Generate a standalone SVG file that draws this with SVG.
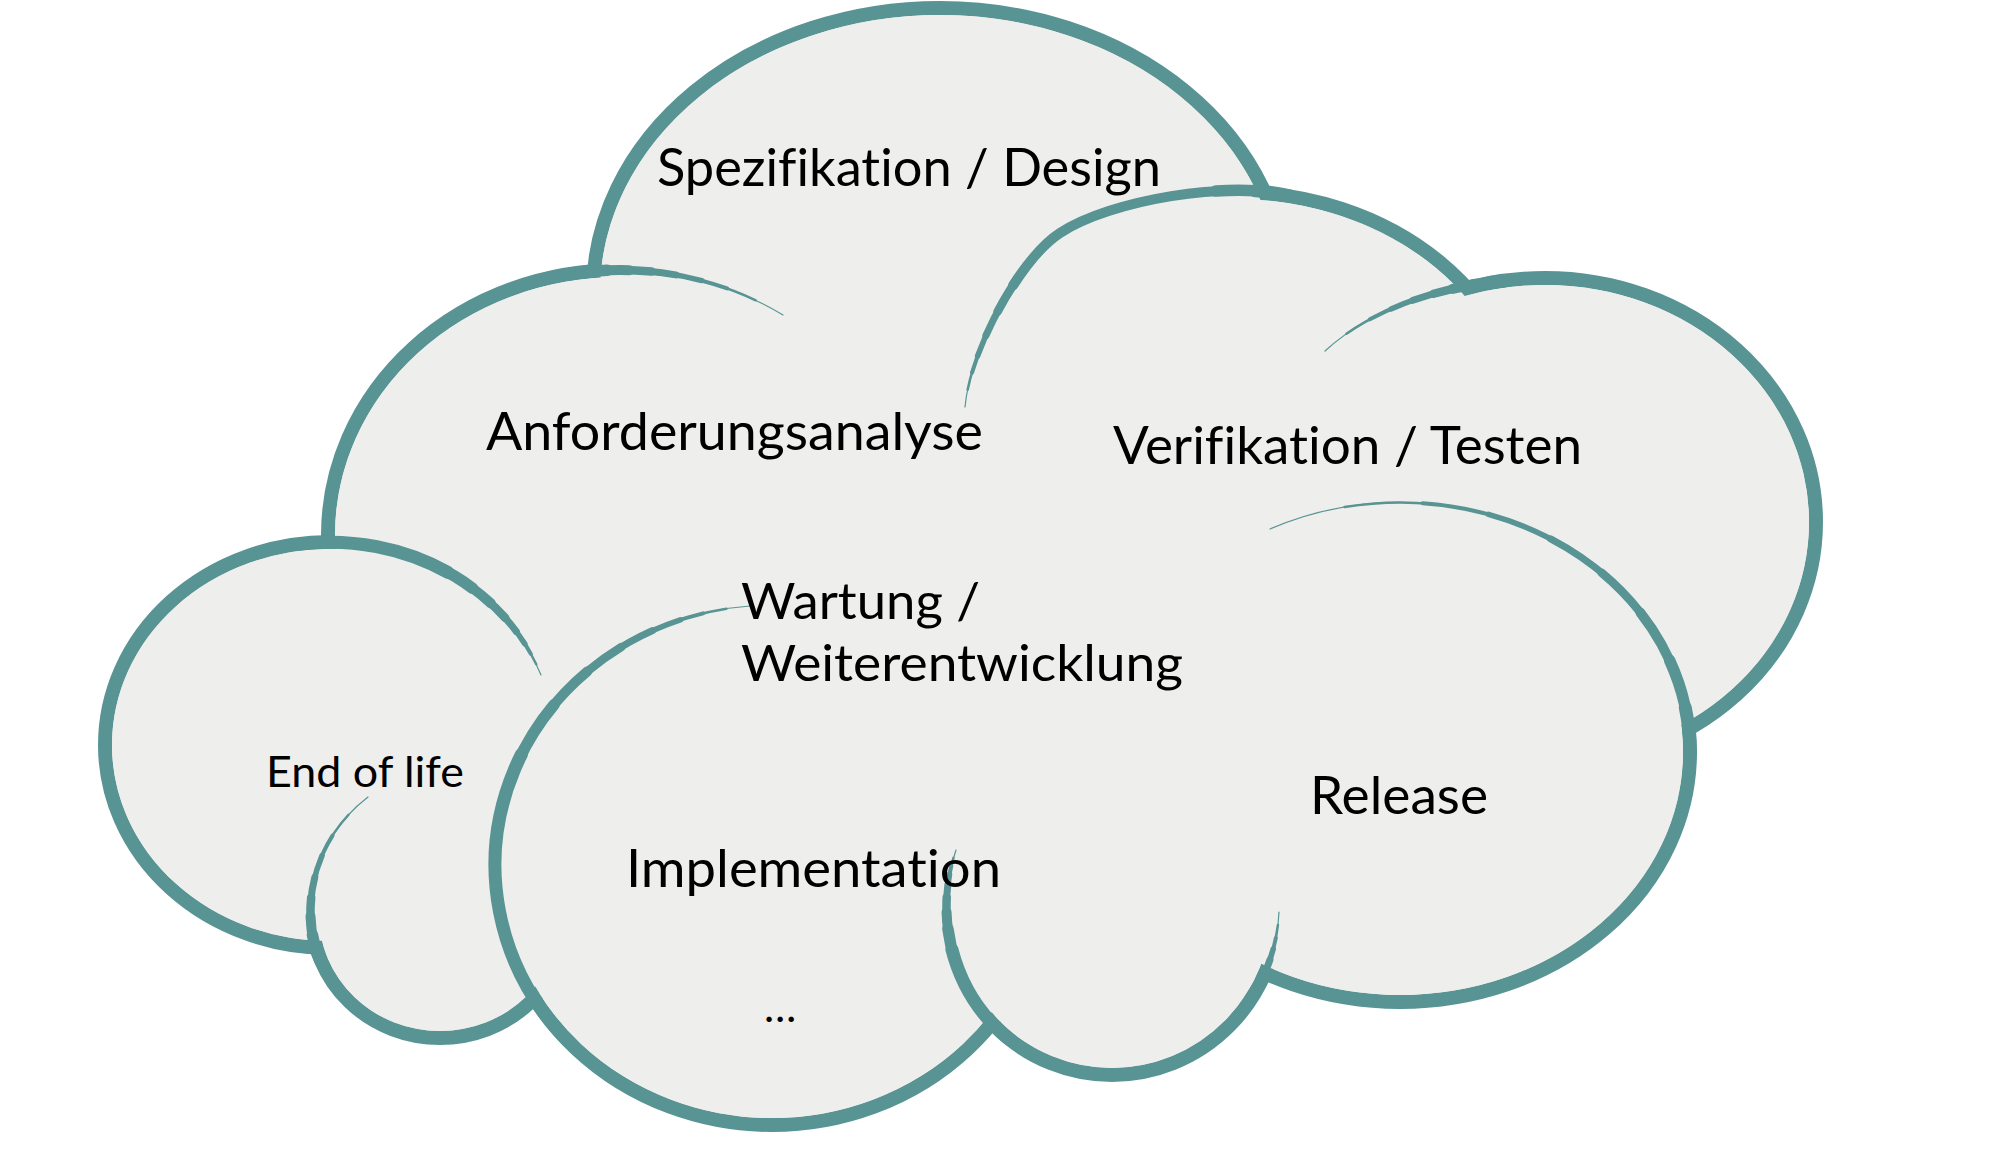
<svg xmlns="http://www.w3.org/2000/svg" width="2014" height="1174" viewBox="0 0 2014 1174">
<defs>
<style>
.bump{fill:#EEEEEC;stroke:#589494;stroke-width:14}
.cover{fill:#EEEEEC;stroke:none}
.arc{fill:none;stroke:#589494;stroke-linecap:round}
.L1{stroke-width:1.2}
.L2{stroke-width:2.5;stroke-dasharray:86 400}
.L3{stroke-width:4;stroke-dasharray:72 400}
.L4{stroke-width:5.5;stroke-dasharray:60 400}
.L5{stroke-width:7;stroke-dasharray:48 400}
.L6{stroke-width:8.5;stroke-dasharray:37 400}
.L7{stroke-width:10;stroke-dasharray:27 400}
.L8{stroke-width:11.5;stroke-dasharray:17 400}
.L9{stroke-width:13;stroke-dasharray:8 400}
.K1{stroke-width:1.2}
.K2{stroke-width:2.5;stroke-dasharray:96 400}
.K3{stroke-width:4;stroke-dasharray:92 400}
.K4{stroke-width:5.5;stroke-dasharray:88 400}
.K5{stroke-width:7;stroke-dasharray:83 400}
.K6{stroke-width:8.5;stroke-dasharray:77 400}
.K7{stroke-width:10;stroke-dasharray:70 400}
.K8{stroke-width:11.5;stroke-dasharray:62 400}
.K9{stroke-width:13;stroke-dasharray:52 400}
.lbl{font-family:Lato,"Open Sans","Liberation Sans",sans-serif;font-size:51.6px;fill:#000000;font-variant-ligatures:none;font-feature-settings:"liga" 0,"clig" 0,"dlig" 0}
.sm{font-size:43px}
.two{font-size:50.5px}
</style>
<path id="a1" pathLength="100" d="M570,274 A292,265 0 0 1 783,315"/>
<path id="a2" pathLength="100" d="M1290,196 C1230,180 1110,200 1060,233 C1020,259 970,350 965,407"/>
<path id="a3" pathLength="100" d="M1505,281 C1450,285 1375,305 1325,351"/>
<path id="a4" pathLength="100" d="M1690,752 A290,250 0 0 0 1270,529"/>
<path id="a5" pathLength="100" d="M1250,1000 A167,170 0 0 0 1279,912"/>
<path id="a6" pathLength="100" d="M1010,1040 A167,170 0 0 1 956,850"/>
<path id="a7" pathLength="100" d="M567,1040 A277,260 0 0 1 750,606"/>
<path id="a8" pathLength="100" d="M300,544 A225,203 0 0 1 541,675"/>
<path id="a9" pathLength="100" d="M323,965 C300,925 305,845 368,797"/>
</defs>

<g id="cloud">
<g id="bumps">
<ellipse id="bump-spezifikation" class="bump" cx="940" cy="293" rx="347" ry="285"/>
<ellipse id="bump-anforderung" class="bump" cx="620" cy="535" rx="292" ry="265"/>
<ellipse id="bump-verifikation-top" class="bump" cx="1235" cy="432" rx="290" ry="240"/>
<ellipse id="bump-verifikation-right" class="bump" cx="1545" cy="522" rx="271" ry="244"/>
<ellipse id="bump-release" class="bump" cx="1400" cy="752" rx="290" ry="250"/>
<ellipse id="bump-bottom-right" class="bump" cx="1112" cy="905" rx="167" ry="170"/>
<ellipse id="bump-implementation" class="bump" cx="772" cy="865" rx="277" ry="260"/>
<ellipse id="bump-endoflife" class="bump" cx="330" cy="745" rx="225" ry="203"/>
<ellipse id="bump-bottom-left" class="bump" cx="440" cy="915" rx="128" ry="123"/>
</g>
<g id="covers">
<ellipse class="cover" cx="940" cy="293" rx="340" ry="278"/>
<ellipse class="cover" cx="620" cy="535" rx="285" ry="258"/>
<ellipse class="cover" cx="1235" cy="432" rx="283" ry="233"/>
<ellipse class="cover" cx="1545" cy="522" rx="264" ry="237"/>
<ellipse class="cover" cx="1400" cy="752" rx="283" ry="243"/>
<ellipse class="cover" cx="1112" cy="905" rx="160" ry="163"/>
<ellipse class="cover" cx="772" cy="865" rx="270" ry="253"/>
<ellipse class="cover" cx="330" cy="745" rx="218" ry="196"/>
<ellipse class="cover" cx="440" cy="915" rx="121" ry="116"/>
<ellipse class="cover" cx="900" cy="620" rx="500" ry="300"/>
</g>
<g id="inner-arcs">
<g id="arc-anforderung">
<use href="#a1" class="arc L1"/><use href="#a1" class="arc L2"/><use href="#a1" class="arc L3"/><use href="#a1" class="arc L4"/><use href="#a1" class="arc L5"/><use href="#a1" class="arc L6"/><use href="#a1" class="arc L7"/><use href="#a1" class="arc L8"/><use href="#a1" class="arc L9"/>
</g>
<g id="arc-verifikation-top">
<use href="#a2" class="arc K1"/><use href="#a2" class="arc K2"/><use href="#a2" class="arc K3"/><use href="#a2" class="arc K4"/><use href="#a2" class="arc K5"/><use href="#a2" class="arc K6"/><use href="#a2" class="arc K7"/><use href="#a2" class="arc L8"/><use href="#a2" class="arc L9"/>
</g>
<g id="arc-verifikation-right">
<use href="#a3" class="arc L1"/><use href="#a3" class="arc L2"/><use href="#a3" class="arc L3"/><use href="#a3" class="arc L4"/><use href="#a3" class="arc L5"/><use href="#a3" class="arc L6"/><use href="#a3" class="arc L7"/><use href="#a3" class="arc L8"/><use href="#a3" class="arc L9"/>
</g>
<g id="arc-release">
<use href="#a4" class="arc L1"/><use href="#a4" class="arc L2"/><use href="#a4" class="arc L3"/><use href="#a4" class="arc L4"/><use href="#a4" class="arc L5"/><use href="#a4" class="arc L6"/><use href="#a4" class="arc L7"/><use href="#a4" class="arc L8"/><use href="#a4" class="arc L9"/>
</g>
<g id="arc-bottom-right-r">
<use href="#a5" class="arc L1"/><use href="#a5" class="arc L2"/><use href="#a5" class="arc L3"/><use href="#a5" class="arc L4"/><use href="#a5" class="arc L5"/><use href="#a5" class="arc L6"/><use href="#a5" class="arc L7"/><use href="#a5" class="arc L8"/><use href="#a5" class="arc L9"/>
</g>
<g id="arc-bottom-right-l">
<use href="#a6" class="arc K1"/><use href="#a6" class="arc K2"/><use href="#a6" class="arc K3"/><use href="#a6" class="arc K4"/><use href="#a6" class="arc K5"/><use href="#a6" class="arc K6"/><use href="#a6" class="arc K7"/><use href="#a6" class="arc K8"/><use href="#a6" class="arc K9"/>
</g>
<g id="arc-implementation">
<use href="#a7" class="arc K1"/><use href="#a7" class="arc K2"/><use href="#a7" class="arc K3"/><use href="#a7" class="arc K4"/><use href="#a7" class="arc K5"/><use href="#a7" class="arc K6"/><use href="#a7" class="arc K7"/><use href="#a7" class="arc K8"/><use href="#a7" class="arc K9"/>
</g>
<g id="arc-endoflife">
<use href="#a8" class="arc K1"/><use href="#a8" class="arc K2"/><use href="#a8" class="arc K3"/><use href="#a8" class="arc K4"/><use href="#a8" class="arc K5"/><use href="#a8" class="arc K6"/><use href="#a8" class="arc K7"/><use href="#a8" class="arc K8"/><use href="#a8" class="arc K9"/>
</g>
<g id="arc-bottom-left">
<use href="#a9" class="arc L1"/><use href="#a9" class="arc L2"/><use href="#a9" class="arc L3"/><use href="#a9" class="arc L4"/><use href="#a9" class="arc L5"/><use href="#a9" class="arc L6"/><use href="#a9" class="arc L7"/><use href="#a9" class="arc L8"/><use href="#a9" class="arc L9"/>
</g>
</g>
</g>

<g id="labels">
<g id="node-spezifikation"><text class="lbl" x="657" y="186" textLength="504" lengthAdjust="spacingAndGlyphs">Spezifikation / Design</text></g>
<g id="node-anforderungsanalyse"><text class="lbl" x="486" y="450" textLength="497" lengthAdjust="spacingAndGlyphs">Anforderungsanalyse</text></g>
<g id="node-verifikation"><text class="lbl" x="1113" y="464" textLength="469" lengthAdjust="spacingAndGlyphs">Verifikation / Testen</text></g>
<g id="node-wartung"><text class="lbl two"><tspan x="741" y="619" textLength="239" lengthAdjust="spacingAndGlyphs">Wartung /</tspan><tspan x="741" y="681" textLength="442" lengthAdjust="spacingAndGlyphs">Weiterentwicklung</tspan></text></g>
<g id="node-endoflife"><text class="lbl sm" x="266" y="787" textLength="198" lengthAdjust="spacingAndGlyphs">End of life</text></g>
<g id="node-implementation"><text class="lbl" x="626" y="887" textLength="375" lengthAdjust="spacingAndGlyphs">Implementation</text></g>
<g id="node-release"><text class="lbl" x="1310" y="814" textLength="178" lengthAdjust="spacingAndGlyphs">Release</text></g>
<g id="node-more"><text class="lbl sm" x="764" y="1022">…</text></g>
</g>
</svg>
